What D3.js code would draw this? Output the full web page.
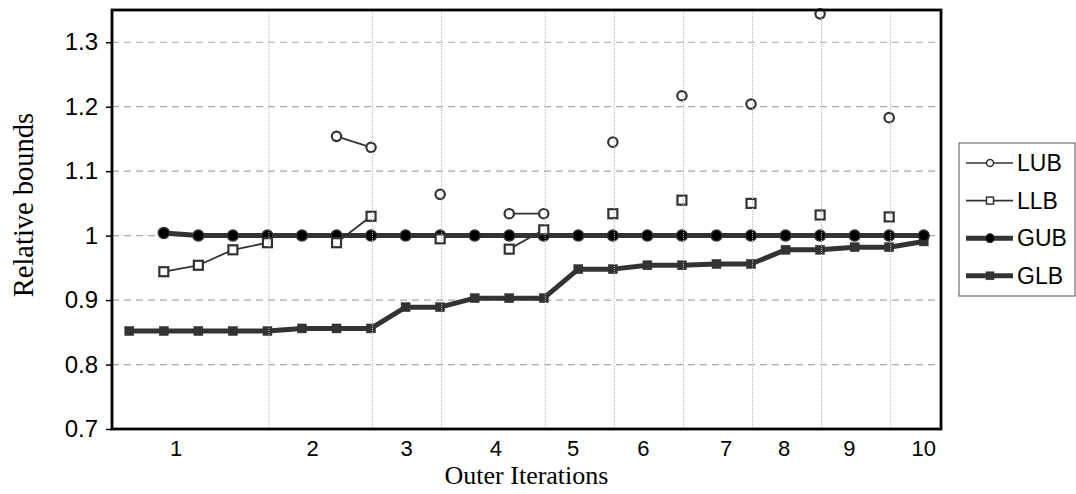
<!DOCTYPE html>
<html>
<head>
<meta charset="utf-8">
<script src="https://cdn.jsdelivr.net/npm/d3@7"></script>
<style>
  body { margin: 0; background: #fff; }
  .tick text { font-family: "Liberation Sans", Arial, sans-serif; font-size: 24px; fill: #000; }
</style>
</head>
<body>
<div id="chart"></div>
<script>
// values per inner step (24 steps), null = no marker
const steps = d3.range(24);
const lub = [null, null, null, null, null, null, 1.154, 1.137, null, 1.064, null, 1.034, 1.034, null, 1.145, null, 1.217, null, 1.204, null, 1.344, null, 1.183, null];
const llb = [null, 0.944, 0.954, 0.978, 0.989, null, 0.989, 1.030, null, 0.995, null, 0.979, 1.009, null, 1.034, null, 1.055, null, 1.050, null, 1.032, null, 1.029, null];
const gub = [null, 1.004, 1, 1, 1, 1, 1, 1, 1, 1, 1, 1, 1, 1, 1, 1, 1, 1, 1, 1, 1, 1, 1, 1];
const glb = [0.852, 0.852, 0.852, 0.852, 0.852, 0.856, 0.856, 0.856, 0.889, 0.889, 0.903, 0.903, 0.903, 0.948, 0.948, 0.954, 0.954, 0.956, 0.956, 0.978, 0.978, 0.982, 0.982, 0.991];

// outer iteration labels and where they sit (in step units), plus the dotted separators
const outerLabels = ["1", "2", "3", "4", "5", "6", "7", "8", "9", "10"];
const outerLabelPos = [1.36, 5.31, 8.03, 10.61, 12.85, 14.88, 17.28, 18.96, 20.85, 23.0];
const separators = [4, 7, 9, 12, 14, 16, 18, 20, 22];
const yTicks = [0.7, 0.8, 0.9, 1.0, 1.1, 1.2, 1.3];

const W = 1076, H = 494;
const margin = {top: 10, right: 135, bottom: 65, left: 112};
const width = W - margin.left - margin.right;
const height = H - margin.top - margin.bottom;

const svg = d3.select("#chart").append("svg")
    .attr("width", W)
    .attr("height", H);
const g = svg.append("g").attr("transform", `translate(${margin.left}, ${margin.top})`);

const x = d3.scaleLinear().domain([-0.5, 23.5]).range([0, width]);
const y = d3.scaleLinear().domain([0.7, 1.35]).range([height, 0]);

// horizontal dashed grid
g.selectAll(".hgrid")
    .data(yTicks.slice(1))
    .join("line")
    .attr("class", "hgrid")
    .attr("x1", 0).attr("x2", width)
    .attr("y1", d => y(d)).attr("y2", d => y(d))
    .attr("stroke", "#a8a8a8")
    .attr("stroke-width", 1.2)
    .attr("stroke-dasharray", "7,5");

// y axis
g.append("g")
    .call(d3.axisLeft(y).tickValues(yTicks).tickSize(6).tickPadding(8)
        .tickFormat(d => d === 1 ? "1" : d3.format(".1f")(d)))
    .call(a => a.select(".domain").remove())
    .call(a => a.selectAll(".tick line").attr("stroke", "#000").attr("stroke-width", 1.5));

const thickColor = "#333";

function drawSeries(values, opts) {
    const pts = steps.map(i => ({i: i, v: values[i]}));
    const line = d3.line()
        .defined(d => d.v !== null)
        .x(d => x(d.i))
        .y(d => y(d.v));
    g.append("path")
        .datum(pts)
        .attr("fill", "none")
        .attr("stroke", thickColor)
        .attr("stroke-width", opts.lw)
        .attr("stroke-linejoin", "round")
        .attr("d", line);
    const valid = pts.filter(d => d.v !== null);
    if (opts.shape === "circle") {
        g.selectAll(null).data(valid).join("circle")
            .attr("cx", d => x(d.i)).attr("cy", d => y(d.v))
            .attr("r", opts.size)
            .attr("fill", opts.fill)
            .attr("stroke", thickColor)
            .attr("stroke-width", opts.sw);
    } else {
        g.selectAll(null).data(valid).join("rect")
            .attr("x", d => x(d.i) - opts.size).attr("y", d => y(d.v) - opts.size)
            .attr("width", opts.size * 2).attr("height", opts.size * 2)
            .attr("fill", opts.fill)
            .attr("stroke", thickColor)
            .attr("stroke-width", opts.sw);
    }
}

drawSeries(glb, {lw: 5, shape: "rect", size: 4.5, fill: thickColor, sw: 0.5});
drawSeries(gub, {lw: 5, shape: "circle", size: 5.5, fill: "#000", sw: 1.5});
drawSeries(llb, {lw: 1.8, shape: "rect", size: 4.5, fill: "#fff", sw: 2.2});
drawSeries(lub, {lw: 1.8, shape: "circle", size: 4.7, fill: "#fff", sw: 2.2});

// dotted separators between outer iterations (drawn on top, like the original)
g.selectAll(".vgrid")
    .data(separators)
    .join("line")
    .attr("class", "vgrid")
    .attr("x1", d => x(d) + 1.5).attr("x2", d => x(d) + 1.5)
    .attr("y1", 0).attr("y2", height)
    .attr("stroke", "#b8b8b8")
    .attr("stroke-width", 1)
    .attr("stroke-dasharray", "1,1");

// outer iteration labels
g.selectAll(".xlab")
    .data(outerLabels)
    .join("text")
    .attr("class", "xlab")
    .attr("x", (d, i) => x(outerLabelPos[i]))
    .attr("y", height + 26.5)
    .attr("text-anchor", "middle")
    .style("font-family", "'Liberation Sans', Arial, sans-serif")
    .style("font-size", "22px")
    .text(d => d);

// frame
g.append("rect")
    .attr("x", 0).attr("y", 0)
    .attr("width", width).attr("height", height)
    .attr("fill", "none")
    .attr("stroke", "#000")
    .attr("stroke-width", 2.8);

// axis titles
svg.append("text")
    .attr("x", margin.left + width / 2)
    .attr("y", 484)
    .attr("text-anchor", "middle")
    .style("font-family", "'Liberation Serif', 'Times New Roman', serif")
    .style("font-size", "26px")
    .text("Outer Iterations");

svg.append("text")
    .attr("transform", "translate(33, 205) rotate(-90)")
    .attr("text-anchor", "middle")
    .style("font-family", "'Liberation Serif', 'Times New Roman', serif")
    .style("font-size", "28.5px")
    .text("Relative bounds");

// legend
const legendItems = [
    {name: "LUB", lw: 1.6, shape: "circle", size: 3.5, fill: "#fff", sw: 1.5},
    {name: "LLB", lw: 1.6, shape: "rect", size: 3.5, fill: "#fff", sw: 1.5},
    {name: "GUB", lw: 5, shape: "circle", size: 4.5, fill: "#000", sw: 1},
    {name: "GLB", lw: 5, shape: "rect", size: 4, fill: thickColor, sw: 0.5}
];
const legend = svg.append("g").attr("transform", "translate(959, 143)");
legend.append("rect")
    .attr("x", 0).attr("y", 0)
    .attr("width", 116).attr("height", 153)
    .attr("fill", "#fff")
    .attr("stroke", "#555")
    .attr("stroke-width", 1);

const rows = legend.selectAll(".lrow")
    .data(legendItems)
    .join("g")
    .attr("class", "lrow")
    .attr("transform", (d, i) => `translate(0, ${20 + i * 37.6})`);
rows.append("line")
    .attr("x1", 7).attr("x2", 54)
    .attr("stroke", thickColor)
    .attr("stroke-width", d => d.lw);
rows.each(function(d) {
    const r = d3.select(this);
    if (d.shape === "circle") {
        r.append("circle").attr("cx", 31).attr("cy", 0).attr("r", d.size)
            .attr("fill", d.fill).attr("stroke", thickColor).attr("stroke-width", d.sw);
    } else {
        r.append("rect").attr("x", 31 - d.size).attr("y", -d.size)
            .attr("width", d.size * 2).attr("height", d.size * 2)
            .attr("fill", d.fill).attr("stroke", thickColor).attr("stroke-width", d.sw);
    }
});
rows.append("text")
    .attr("x", 58)
    .attr("y", 8)
    .style("font-family", "'Liberation Sans', Arial, sans-serif")
    .style("font-size", "23px")
    .text(d => d.name);
</script>
</body>
</html>
